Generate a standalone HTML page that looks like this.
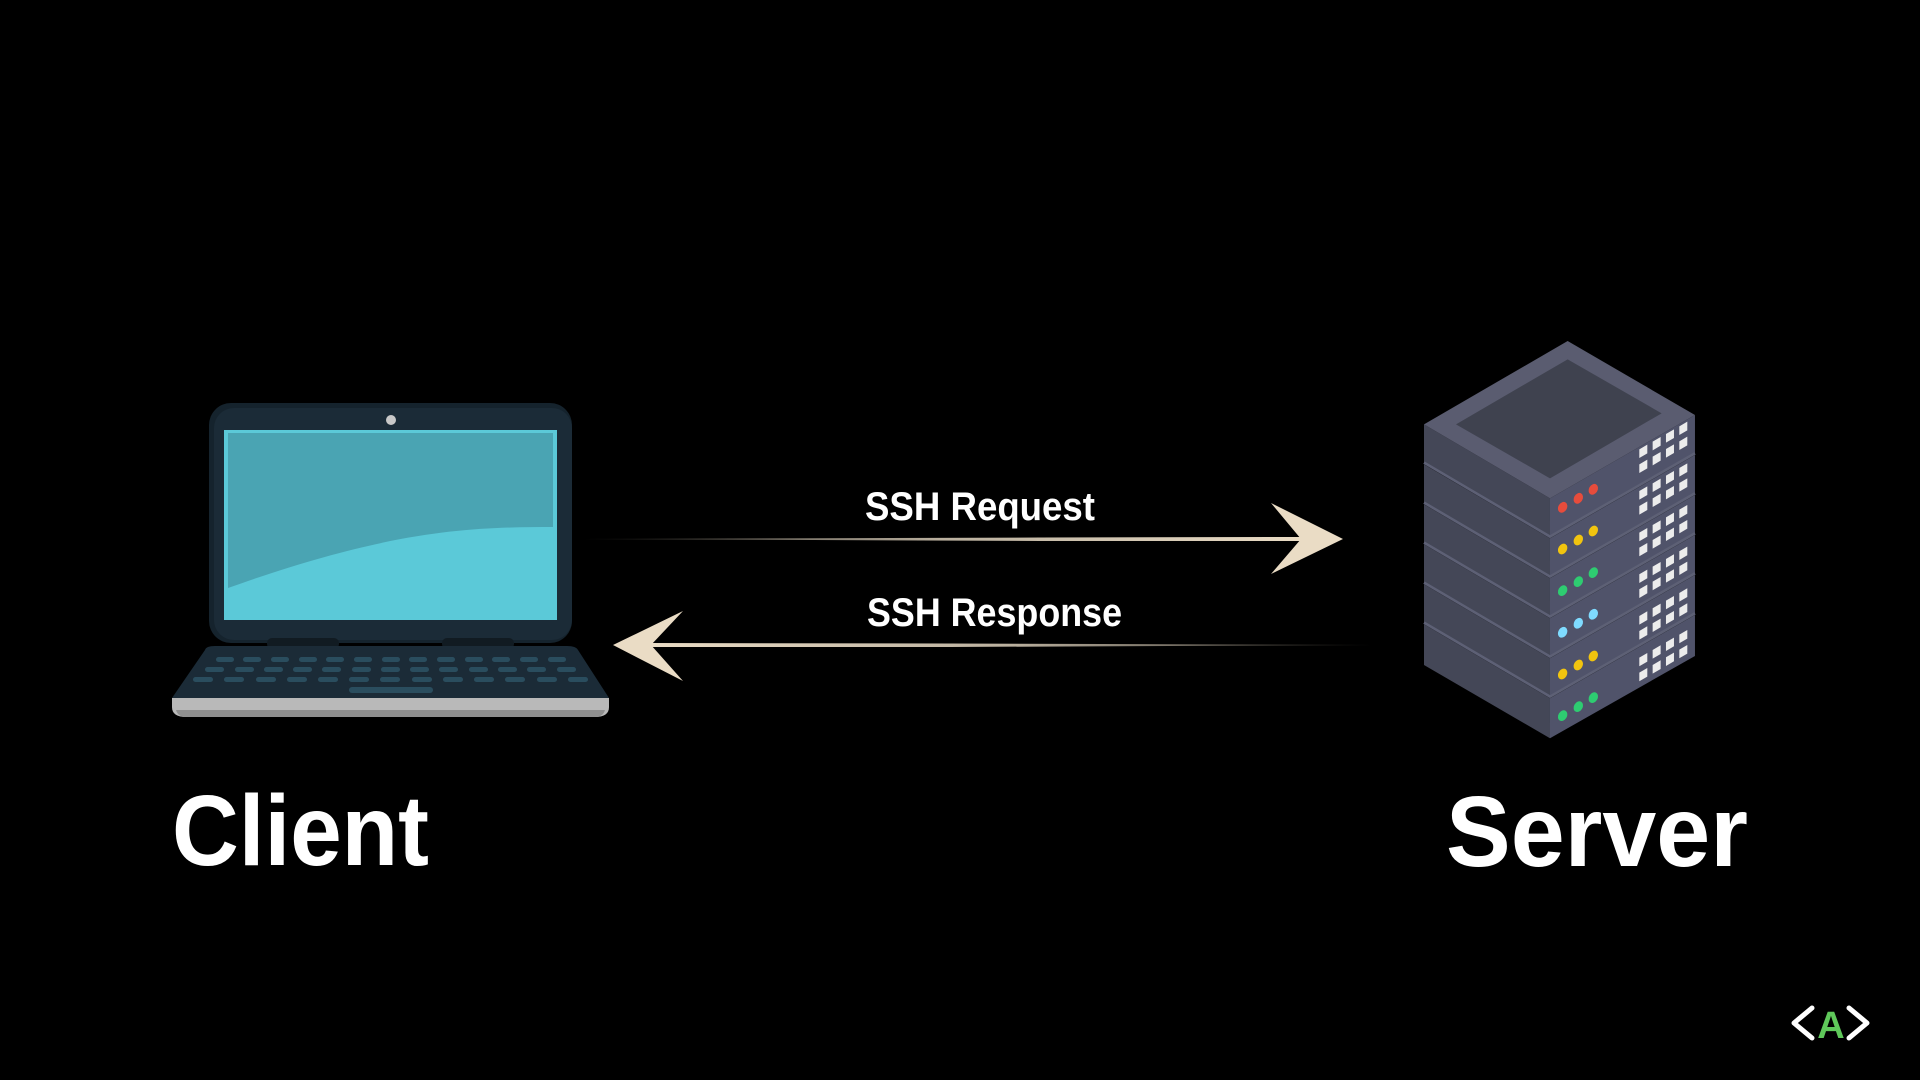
<!DOCTYPE html>
<html><head><meta charset="utf-8"><style>
html,body{margin:0;padding:0;background:#000;width:1920px;height:1080px;overflow:hidden}
svg{display:block}
</style></head><body>
<svg width="1920" height="1080" viewBox="0 0 1920 1080" xmlns="http://www.w3.org/2000/svg">
<defs>
<linearGradient id="g1" x1="0" x2="1" y1="0" y2="0">
<stop offset="0" stop-color="#e9dcc6" stop-opacity="0.15"/>
<stop offset="0.5" stop-color="#e9dcc6" stop-opacity="0.8"/>
<stop offset="1" stop-color="#eadcc5"/>
</linearGradient>
<linearGradient id="g2" x1="1" x2="0" y1="0" y2="0">
<stop offset="0" stop-color="#e9dcc6" stop-opacity="0.15"/>
<stop offset="0.5" stop-color="#e9dcc6" stop-opacity="0.8"/>
<stop offset="1" stop-color="#eadcc5"/>
</linearGradient>
</defs>
<rect width="1920" height="1080" fill="#000"/>

<!-- Laptop -->
<rect x="209" y="403" width="363" height="240" rx="22" fill="#15232d"/>
<rect x="214" y="408" width="358" height="232" rx="20" fill="#1b2b37"/>
<circle cx="391" cy="420" r="5" fill="#c8c8c8"/>
<rect x="224" y="430" width="333" height="190" fill="#5bc9d8"/>
<path d="M228 433 H553 V527 C470 527 390 530 228 588 Z" fill="#4aa4b3"/>
<rect x="267" y="638" width="72" height="11" rx="5" fill="#111b22"/>
<rect x="442" y="638" width="72" height="11" rx="5" fill="#111b22"/>
<path d="M205 650 Q206 646 215 646 H567 Q576 646 578 650 L609 698 H172 Z" fill="#1b2b37"/>
<path d="M172 698 H609 V707 Q609 717 595 717 H186 Q172 717 172 707 Z" fill="#b9b9b9"/>
<path d="M176 710 H605 Q603 717 595 717 H186 Q178 717 176 710 Z" fill="#8f8f8f"/>
<g fill="#2a4d5e">
<rect x="216" y="657" width="18" height="5" rx="2.5"/><rect x="243" y="657" width="18" height="5" rx="2.5"/><rect x="271" y="657" width="18" height="5" rx="2.5"/><rect x="299" y="657" width="18" height="5" rx="2.5"/><rect x="326" y="657" width="18" height="5" rx="2.5"/><rect x="354" y="657" width="18" height="5" rx="2.5"/><rect x="382" y="657" width="18" height="5" rx="2.5"/><rect x="409" y="657" width="18" height="5" rx="2.5"/><rect x="437" y="657" width="18" height="5" rx="2.5"/><rect x="465" y="657" width="18" height="5" rx="2.5"/><rect x="492" y="657" width="18" height="5" rx="2.5"/><rect x="520" y="657" width="18" height="5" rx="2.5"/><rect x="548" y="657" width="18" height="5" rx="2.5"/>
<rect x="205" y="667" width="19" height="5" rx="2.5"/><rect x="235" y="667" width="19" height="5" rx="2.5"/><rect x="264" y="667" width="19" height="5" rx="2.5"/><rect x="293" y="667" width="19" height="5" rx="2.5"/><rect x="322" y="667" width="19" height="5" rx="2.5"/><rect x="352" y="667" width="19" height="5" rx="2.5"/><rect x="381" y="667" width="19" height="5" rx="2.5"/><rect x="410" y="667" width="19" height="5" rx="2.5"/><rect x="439" y="667" width="19" height="5" rx="2.5"/><rect x="469" y="667" width="19" height="5" rx="2.5"/><rect x="498" y="667" width="19" height="5" rx="2.5"/><rect x="527" y="667" width="19" height="5" rx="2.5"/><rect x="557" y="667" width="19" height="5" rx="2.5"/>
<rect x="193" y="677" width="20" height="5" rx="2.5"/><rect x="224" y="677" width="20" height="5" rx="2.5"/><rect x="256" y="677" width="20" height="5" rx="2.5"/><rect x="287" y="677" width="20" height="5" rx="2.5"/><rect x="318" y="677" width="20" height="5" rx="2.5"/><rect x="349" y="677" width="20" height="5" rx="2.5"/><rect x="380" y="677" width="20" height="5" rx="2.5"/><rect x="412" y="677" width="20" height="5" rx="2.5"/><rect x="443" y="677" width="20" height="5" rx="2.5"/><rect x="474" y="677" width="20" height="5" rx="2.5"/><rect x="505" y="677" width="20" height="5" rx="2.5"/><rect x="537" y="677" width="20" height="5" rx="2.5"/><rect x="568" y="677" width="20" height="5" rx="2.5"/>
<rect x="349" y="687" width="84" height="6" rx="3"/>
</g>

<!-- Arrows -->
<path d="M582 539 L1040 537.5 L1302 537 L1302 541 L1040 541 Z" fill="url(#g1)"/>
<path d="M1271 503 L1343 539 L1271 574 L1301 539 Z" fill="#eadcc5"/>
<path d="M1374 645 L950 643.5 L648 643 L648 647 L950 647 Z" fill="url(#g2)"/>
<path d="M683 611 L613 645 L683 681 L651 645 Z" fill="#eadcc5"/>

<g font-family="Liberation Sans, sans-serif" fill="#fff">
<text x="865" y="520" font-size="40" font-weight="bold" textLength="230" lengthAdjust="spacingAndGlyphs">SSH Request</text>
<text x="867" y="626" font-size="40" font-weight="bold" textLength="255" lengthAdjust="spacingAndGlyphs">SSH Response</text>
<text x="172" y="865" font-size="100" font-weight="bold" textLength="257" lengthAdjust="spacingAndGlyphs">Client</text>
<text x="1446" y="866" font-size="100" font-weight="bold" textLength="302" lengthAdjust="spacingAndGlyphs">Server</text>
</g>

<!-- Server -->
<g transform="translate(1400,330) scale(0.3333)">
<polygon points="72,883 450,1105 450,1225 72,1005" fill="#444757"/><polygon points="450,1105 885,855 885,978 450,1225" fill="#50536a"/>
<polygon points="72,763 450,985 450,1100 72,878" fill="#444757"/><polygon points="450,985 885,735 885,850 450,1100" fill="#50536a"/>
<polygon points="72,643 450,865 450,980 72,758" fill="#444757"/><polygon points="450,865 885,615 885,730 450,980" fill="#50536a"/>
<polygon points="72,523 450,745 450,860 72,638" fill="#444757"/><polygon points="450,745 885,495 885,610 450,860" fill="#50536a"/>
<polygon points="72,403 450,625 450,740 72,518" fill="#444757"/><polygon points="450,625 885,375 885,490 450,740" fill="#50536a"/>
<polygon points="72,283 450,505 450,620 72,398" fill="#444757"/><polygon points="450,505 885,255 885,370 450,620" fill="#50536a"/>
<g stroke="#5d6075" stroke-width="8">
<polyline points="72,398 450,620 885,370" fill="none"/><polyline points="72,518 450,740 885,490" fill="none"/><polyline points="72,638 450,860 885,610" fill="none"/><polyline points="72,758 450,980 885,730" fill="none"/><polyline points="72,878 450,1100 885,850" fill="none"/>
</g>
<polygon points="503,33 885,255 450,505 72,283" fill="#5a5c70"/>
<polygon points="503,88 785,250 450,445 168,283" fill="#3f424f"/>
<g>
<g><ellipse cx="488" cy="532" rx="13" ry="17" fill="#e74c3c" transform="rotate(30 488 532)"/><ellipse cx="535" cy="505" rx="13" ry="17" fill="#e74c3c" transform="rotate(30 535 505)"/><ellipse cx="580" cy="478" rx="13" ry="17" fill="#e74c3c" transform="rotate(30 580 478)"/></g>
<g transform="translate(0,125)"><ellipse cx="488" cy="532" rx="13" ry="17" fill="#f1c40f" transform="rotate(30 488 532)"/><ellipse cx="535" cy="505" rx="13" ry="17" fill="#f1c40f" transform="rotate(30 535 505)"/><ellipse cx="580" cy="478" rx="13" ry="17" fill="#f1c40f" transform="rotate(30 580 478)"/></g>
<g transform="translate(0,250)"><ellipse cx="488" cy="532" rx="13" ry="17" fill="#2ecc71" transform="rotate(30 488 532)"/><ellipse cx="535" cy="505" rx="13" ry="17" fill="#2ecc71" transform="rotate(30 535 505)"/><ellipse cx="580" cy="478" rx="13" ry="17" fill="#2ecc71" transform="rotate(30 580 478)"/></g>
<g transform="translate(0,375)"><ellipse cx="488" cy="532" rx="13" ry="17" fill="#7fdbff" transform="rotate(30 488 532)"/><ellipse cx="535" cy="505" rx="13" ry="17" fill="#7fdbff" transform="rotate(30 535 505)"/><ellipse cx="580" cy="478" rx="13" ry="17" fill="#7fdbff" transform="rotate(30 580 478)"/></g>
<g transform="translate(0,500)"><ellipse cx="488" cy="532" rx="13" ry="17" fill="#f1c40f" transform="rotate(30 488 532)"/><ellipse cx="535" cy="505" rx="13" ry="17" fill="#f1c40f" transform="rotate(30 535 505)"/><ellipse cx="580" cy="478" rx="13" ry="17" fill="#f1c40f" transform="rotate(30 580 478)"/></g>
<g transform="translate(0,625)"><ellipse cx="488" cy="532" rx="13" ry="17" fill="#2ecc71" transform="rotate(30 488 532)"/><ellipse cx="535" cy="505" rx="13" ry="17" fill="#2ecc71" transform="rotate(30 535 505)"/><ellipse cx="580" cy="478" rx="13" ry="17" fill="#2ecc71" transform="rotate(30 580 478)"/></g>
</g>
<g fill="#ececec">
<g id="sq"><polygon points="718,358 742,344 742,370 718,384"/><polygon points="758,335 782,321 782,347 758,361"/><polygon points="798,312 822,298 822,324 798,338"/><polygon points="838,289 862,275 862,301 838,315"/>
<polygon points="718,403 742,389 742,415 718,429"/><polygon points="758,380 782,366 782,392 758,406"/><polygon points="798,357 822,343 822,369 798,383"/><polygon points="838,334 862,320 862,346 838,360"/></g>
<use href="#sq" transform="translate(0,125)"/><use href="#sq" transform="translate(0,250)"/><use href="#sq" transform="translate(0,375)"/><use href="#sq" transform="translate(0,500)"/><use href="#sq" transform="translate(0,625)"/>
</g>
</g>

<!-- logo -->
<g fill="none" stroke="#fff" stroke-width="5" stroke-linecap="round" stroke-linejoin="round">
<polyline points="1812,1008 1794,1023 1812,1038"/>
<polyline points="1849,1008 1867,1023 1849,1038"/>
</g>
<text x="1831" y="1038" font-family="Liberation Sans, sans-serif" font-weight="bold" font-size="38" fill="#5fc85a" text-anchor="middle">A</text>
</svg>
</body></html>
